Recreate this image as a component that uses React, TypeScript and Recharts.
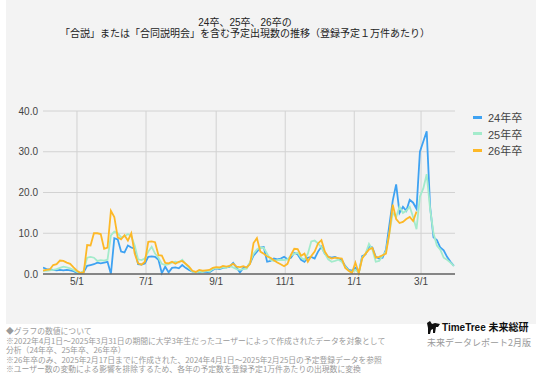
import React from 'react';
import { LineChart, Line, XAxis, YAxis, CartesianGrid, Legend } from 'recharts';

// day index from Apr 1 (0) to Mar 31 (364), sampled every 3 days
const days: number[] = Array.from({ length: 122 }, (_, i) => i * 3);

const series24: number[] = [
  1.6, 1.2, 1.1, 1.0, 0.9, 1.0, 0.9, 1.0, 0.9, 0.7,
  0.3, 0.2, 0.5, 2.0, 2.2, 2.4, 2.8, 2.6, 2.8, 3.0,
  0.0, 8.8, 8.5, 5.5, 5.3, 7.0, 6.5, 6.2, 2.4, 2.3,
  2.6, 4.2, 4.3, 4.2, 3.5, 0.2, 1.8, 0.4, 1.5, 1.6,
  1.4, 2.2, 1.5, 1.0, 0.6, 0.5, 0.4, 0.6, 0.5, 0.4,
  1.0, 1.4, 1.2, 1.5, 1.6, 1.8, 2.7, 1.6, 0.4, 1.5,
  1.6, 2.7, 4.5, 5.5, 6.5, 6.6, 3.0, 3.2, 3.8, 3.6,
  3.8, 4.2, 3.6, 4.0, 5.2, 4.8, 3.5, 3.0, 4.0, 4.2,
  3.8, 5.5, 6.7, 5.0, 4.2, 4.0, 4.2, 3.8, 3.4, 2.0,
  1.0, 0.8, 1.5, 0.3, 4.4, 4.8, 6.8, 6.5, 4.2, 3.8,
  4.0, 6.0, 12.0, 18.0, 22.0, 15.0, 16.5, 15.5, 18.2, 17.5,
  16.0, 30.0, 32.5, 35.0, 16.5, 9.0, 8.3, 6.5, 5.8, 4.2,
  3.0, 2.0,
];

const series25: number[] = [
  0.8, 0.8, 0.9, 1.0, 1.2, 1.5, 1.8, 1.6, 1.4, 1.0,
  0.5, 0.2, 0.8, 4.0, 4.2, 4.0, 3.2, 3.4, 3.3, 3.5,
  9.5, 10.4, 10.0, 9.0, 9.2, 9.8, 9.3, 7.0, 3.6, 3.4,
  3.8, 5.5, 6.7, 5.0, 4.0, 2.5, 2.2, 2.4, 2.8, 3.0,
  2.8, 3.5, 2.5, 1.5, 0.6, 0.4, 0.6, 0.5, 0.8, 0.6,
  1.2, 1.5, 1.4, 1.6, 1.5, 2.0, 1.6, 1.2, 1.0, 1.2,
  1.3, 3.0, 5.0, 6.0, 6.5, 6.4, 5.0, 3.5, 3.2, 3.4,
  3.5, 3.4, 3.6, 4.5, 5.0, 5.2, 4.0, 3.5, 5.0, 8.0,
  8.2, 7.5, 6.5, 5.0, 3.6, 3.0, 3.2, 3.5, 3.0, 1.8,
  0.8, 0.5, 1.0, 0.3, 4.0, 5.0, 7.4, 6.0, 3.0, 3.2,
  4.5, 5.5, 10.0, 15.0, 14.0, 16.5, 15.0, 15.5, 16.5, 14.0,
  11.0, 19.0, 21.0, 24.5, 16.0, 10.0, 7.0, 6.0, 4.0, 3.5,
  2.8, 2.0,
];

const series26: (number | null)[] = [
  0.8, 1.0, 1.1, 2.2, 2.4, 3.3, 3.2, 2.8, 2.5, 1.6,
  0.8, 0.3, 0.4, 7.1, 7.0, 10.0, 10.0, 9.8, 6.2, 6.5,
  15.5, 14.0, 9.0, 8.5, 9.5, 8.2, 10.0, 5.0, 2.6, 2.3,
  3.0, 7.9, 8.0, 7.8, 4.6, 4.5, 2.7, 2.6, 3.0, 2.5,
  3.0, 3.2, 2.5, 1.8, 0.8, 0.5, 1.0, 0.8, 0.9, 1.0,
  1.5, 1.7, 1.6, 2.0, 1.8, 2.0, 2.5, 1.8, 1.7, 1.9,
  1.6, 2.5, 7.6, 8.8, 5.5, 5.0, 4.3, 4.0, 3.4, 2.8,
  2.4, 1.9, 2.5, 4.7, 6.2, 6.1, 4.5, 5.0, 3.0, 4.4,
  5.5, 7.5, 8.3, 5.5, 4.2, 3.8, 4.0, 3.9, 3.8, 1.5,
  0.8, 0.3, 2.8, 0.2, 3.8, 5.0, 6.0, 6.4, 4.0, 4.2,
  4.6, 5.0, 10.0, 17.0, 13.5, 12.5, 12.8, 13.5, 14.0, 13.0,
  15.3, null, null, null, null, null, null, null, null, null,
  null, null,
];

const seriesNames = ['24年卒', '25年卒', '26年卒'];
const seriesColors = ['#3ea2f2', '#a3ebcb', '#fdb827'];
const tickDays = [30, 91, 153, 214, 275, 334];
const tickLabels = ['5/1', '7/1', '9/1', '11/1', '1/1', '3/1'];
const yTicks = [0, 10, 20, 30, 40];

const titleLines = ['24卒、25卒、26卒の', '「合説」または「合同説明会」を含む予定出現数の推移（登録予定１万件あたり）'];
const noteLines = [
  '◆グラフの数値について',
  '※2022年4月1日〜2025年3月31日の期間に大学3年生だったユーザーによって作成されたデータを対象として',
  '分析（24年卒、25年卒、26年卒）',
  '※26年卒のみ、2025年2月17日までに作成された、2024年4月1日〜2025年2月25日の予定登録データを参照',
  '※ユーザー数の変動による影響を排除するため、各年の予定数を登録予定1万件あたりの出現数に変換',
];

const data = days.map((d, i) => ({ day: d, s24: series24[i], s25: series25[i], s26: series26[i] }));

const FONT = "'Liberation Sans', Arial, 'Noto Sans CJK JP', sans-serif";

const LegendBox = () => (
  <div style={{ fontFamily: FONT, fontSize: 11, color: '#444' }}>
    {seriesNames.map((n, i) => (
      <div key={n} style={{ display: 'flex', alignItems: 'center', height: 16.5 }}>
        <span style={{ display: 'inline-block', width: 9, height: 3, background: seriesColors[i], marginRight: 6 }} />
        <span>{n}</span>
      </div>
    ))}
  </div>
);

export default function App() {
  return (
    <div style={{ position: 'absolute', left: 0, top: 0, width: 536, height: 381, background: '#fff', overflow: 'hidden', fontFamily: FONT }}>
      <div style={{ position: 'absolute', left: 6, top: 0, width: 530, height: 324, background: '#f3f3f3' }} />
      <div style={{ position: 'absolute', left: 39, top: 17, width: 412, textAlign: 'center', fontSize: 10, lineHeight: '11px', color: '#222' }}>
        {titleLines.map((t) => (
          <div key={t}>{t}</div>
        ))}
      </div>
      <div style={{ position: 'absolute', left: 0, top: 0 }}>
        <LineChart width={536} height={300} data={data} margin={{ top: 111, right: 81, bottom: 6, left: 0 }}>
          <CartesianGrid stroke="#d2d2d2" strokeWidth={1} horizontalValues={yTicks} verticalValues={tickDays} />
          <XAxis
            type="number"
            dataKey="day"
            domain={[0, 364]}
            ticks={tickDays}
            tickFormatter={(v: number) => tickLabels[tickDays.indexOf(v)]}
            tickLine={false}
            axisLine={{ stroke: '#666', strokeWidth: 1.5 }}
            tick={{ fontSize: 10, fill: '#444' }}
            tickSize={0}
            tickMargin={4}
            height={20}
            allowDataOverflow
          />
          <YAxis
            type="number"
            domain={[0, 40]}
            ticks={yTicks}
            tickFormatter={(v: number) => v.toFixed(1)}
            axisLine={false}
            tickLine={false}
            tickSize={0}
            tickMargin={5}
            width={43}
            tick={{ fontSize: 10, fill: '#444' }}
          />
          <Legend
            layout="horizontal"
            verticalAlign="middle"
            align="center"
            content={() => <LegendBox />}
            wrapperStyle={{ left: 473, top: 109, width: 63 }}
          />
          <Line type="linear" dataKey="s24" name={seriesNames[0]} stroke={seriesColors[0]} strokeWidth={1.8} dot={false} isAnimationActive={false} />
          <Line type="linear" dataKey="s25" name={seriesNames[1]} stroke={seriesColors[1]} strokeWidth={1.8} dot={false} isAnimationActive={false} />
          <Line type="linear" dataKey="s26" name={seriesNames[2]} stroke={seriesColors[2]} strokeWidth={1.8} dot={false} isAnimationActive={false} />
        </LineChart>
      </div>
      <div style={{ position: 'absolute', left: 6, top: 326, fontSize: 7.8, lineHeight: '9.6px', color: '#9a9a9a', fontFamily: "'Noto Sans CJK JP', sans-serif", whiteSpace: 'nowrap' }}>
        {noteLines.map((t) => (
          <div key={t}>{t}</div>
        ))}
      </div>
      <svg style={{ position: 'absolute', left: 426, top: 321 }} width={15} height={14} viewBox="0 0 15 14">
        <path d="M1 2 L4 0 L6 3 L9 2 L14 3 L12 6 L10 6 L9 12 L7 12 L7 8 L5 9 L4 13 L2 13 L2 7 Z" fill="#111" />
      </svg>
      <div style={{ position: 'absolute', left: 442, top: 321, fontSize: 10, fontWeight: 'bold', color: '#111', whiteSpace: 'nowrap', lineHeight: '13px', fontFamily: "'Liberation Sans', 'Noto Sans CJK JP', sans-serif" }}>
        TimeTree 未来総研
      </div>
      <div style={{ position: 'absolute', left: 427, top: 337, fontSize: 9, color: '#9a9a9a', whiteSpace: 'nowrap', lineHeight: '11px', fontFamily: "'Noto Sans CJK JP', sans-serif" }}>
        未来データレポート2月版
      </div>
    </div>
  );
}
